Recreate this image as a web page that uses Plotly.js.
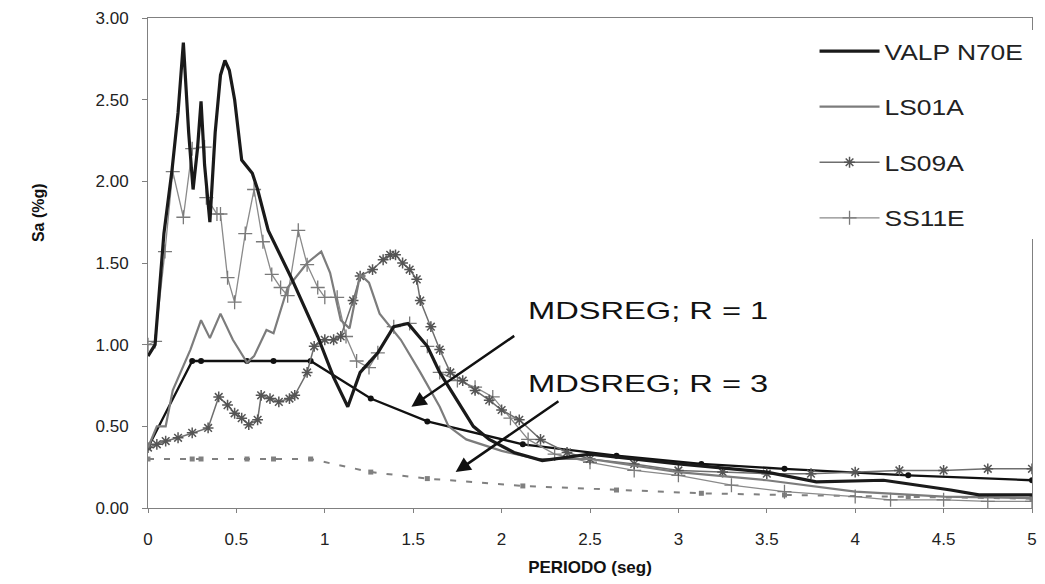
<!DOCTYPE html>
<html>
<head>
<meta charset="utf-8">
<script src="https://cdn.plot.ly/plotly-3.0.1.min.js"></script>
<style>html,body{margin:0;padding:0;background:#fff;}#chart{width:1045px;height:584px;}</style>
</head>
<body>
<div id="chart"></div>
<script>
// ---- Data ----
var valpX = [0, 0.04, 0.09, 0.136, 0.17, 0.2, 0.23, 0.255, 0.28, 0.3, 0.32, 0.35, 0.38, 0.41, 0.435, 0.46, 0.49, 0.53, 0.59, 0.62, 0.68, 0.81, 0.96, 1.05, 1.13, 1.2, 1.3, 1.39, 1.47, 1.58, 1.65, 1.75, 1.84, 1.93, 2.07, 2.23, 2.5, 3.0, 3.5, 3.78, 4.16, 4.54, 4.7, 5];
var valpY = [0.93, 1.0, 1.68, 2.07, 2.42, 2.85, 2.3, 1.95, 2.2, 2.49, 2.1, 1.75, 2.3, 2.65, 2.74, 2.68, 2.5, 2.13, 2.05, 1.95, 1.7, 1.41, 1.05, 0.8, 0.62, 0.83, 0.95, 1.11, 1.13, 0.99, 0.83, 0.66, 0.5, 0.42, 0.34, 0.29, 0.33, 0.27, 0.22, 0.16, 0.17, 0.11, 0.08, 0.08];

var ls01X = [0, 0.05, 0.1, 0.14, 0.24, 0.30, 0.35, 0.41, 0.48, 0.56, 0.6, 0.67, 0.71, 0.79, 0.9, 0.98, 1.03, 1.09, 1.14, 1.2, 1.25, 1.31, 1.43, 1.54, 1.65, 1.7, 1.8, 2.0, 2.2, 2.5, 3.0, 3.5, 4.0, 4.5, 5];
var ls01Y = [0.37, 0.5, 0.5, 0.72, 0.97, 1.15, 1.04, 1.19, 1.03, 0.89, 0.93, 1.09, 1.07, 1.35, 1.50, 1.57, 1.44, 1.15, 1.1, 1.43, 1.38, 1.19, 1.03, 0.83, 0.62, 0.5, 0.42, 0.35, 0.3, 0.3, 0.22, 0.17, 0.1, 0.07, 0.06];

var ls09X = [0, 0.05, 0.1, 0.17, 0.25, 0.34, 0.40, 0.45, 0.49, 0.53, 0.57, 0.62, 0.64, 0.69, 0.74, 0.8, 0.83, 0.9, 0.94, 1.0, 1.05, 1.09, 1.16, 1.2, 1.27, 1.33, 1.37, 1.40, 1.44, 1.48, 1.52, 1.54, 1.60, 1.65, 1.71, 1.78, 1.85, 1.93, 2.0, 2.1, 2.22, 2.37, 2.5, 2.75, 3.0, 3.25, 3.5, 3.75, 4.0, 4.25, 4.5, 4.75, 5];
var ls09Y = [0.37, 0.39, 0.41, 0.43, 0.46, 0.49, 0.68, 0.63, 0.58, 0.55, 0.51, 0.54, 0.69, 0.67, 0.65, 0.67, 0.69, 0.83, 0.99, 1.03, 1.03, 1.05, 1.27, 1.42, 1.46, 1.52, 1.55, 1.55, 1.5, 1.46, 1.4, 1.27, 1.11, 0.97, 0.83, 0.78, 0.72, 0.66, 0.6, 0.54, 0.42, 0.34, 0.3, 0.27, 0.23, 0.22, 0.21, 0.21, 0.22, 0.23, 0.23, 0.24, 0.24];

var ss11X = [0, 0.04, 0.096, 0.14, 0.2, 0.25, 0.32, 0.33, 0.39, 0.41, 0.45, 0.49, 0.55, 0.6, 0.65, 0.70, 0.75, 0.79, 0.85, 0.9, 0.96, 1.0, 1.07, 1.12, 1.18, 1.25, 1.3, 1.39, 1.48, 1.58, 1.65, 1.75, 1.85, 1.95, 2.05, 2.15, 2.3, 2.5, 2.75, 3.0, 3.3, 3.6, 4.0, 4.2, 4.5, 4.75, 5];
var ss11Y = [1.0, 1.02, 1.57, 2.06, 1.78, 2.2, 2.21, 1.9, 1.80, 1.80, 1.41, 1.26, 1.68, 1.95, 1.63, 1.43, 1.35, 1.30, 1.70, 1.49, 1.35, 1.29, 1.29, 1.05, 0.9, 0.86, 0.95, 1.11, 1.13, 0.99, 0.83, 0.78, 0.74, 0.68, 0.55, 0.42, 0.33, 0.28, 0.23, 0.2, 0.14, 0.1, 0.07, 0.05, 0.05, 0.04, 0.04];

var mdsX = [0, 0.25, 0.3, 0.56, 0.71, 0.92, 1.26, 1.58, 2.12, 2.65, 3.13, 3.6, 4.3, 5];
var mdsR1Y = [0.37, 0.9, 0.9, 0.9, 0.9, 0.9, 0.67, 0.53, 0.39, 0.32, 0.27, 0.24, 0.2, 0.17];
var mdsR3Y = [0.3, 0.3, 0.3, 0.3, 0.3, 0.3, 0.22, 0.18, 0.135, 0.11, 0.09, 0.08, 0.07, 0.057];

var xTicks = [0, 0.5, 1, 1.5, 2, 2.5, 3, 3.5, 4, 4.5, 5];
var xTickText = ['0', '0.5', '1', '1.5', '2', '2.5', '3', '3.5', '4', '4.5', '5'];
var yTicks = [0, 0.5, 1, 1.5, 2, 2.5, 3];
var yTickText = ['0.00', '0.50', '1.00', '1.50', '2.00', '2.50', '3.00'];

var seriesNames = ['VALP N70E', 'LS01A', 'LS09A', 'SS11E'];
var annoTexts = ['MDSREG; R = 1', 'MDSREG; R = 3'];
var xTitle = '<b>PERIODO (seg)</b>';
var yTitle = '<b>Sa (%g)</b>';

var traces = [
  {x: mdsX, y: mdsR3Y, mode: 'lines+markers', showlegend: false,
   line: {color: '#808080', width: 2, dash: '6px,10px'},
   marker: {symbol: 'square', size: 5, color: '#808080'}},
  {x: mdsX, y: mdsR1Y, mode: 'lines+markers', showlegend: false,
   line: {color: '#111', width: 2.3},
   marker: {symbol: 'circle', size: 6, color: '#111'}},
  {x: ss11X, y: ss11Y, name: seriesNames[3], legendgroup: 'd', legendrank: 4, mode: 'lines+markers',
   line: {color: '#8a8a8a', width: 1.3},
   marker: {symbol: 'cross-thin-open', size: 10, color: '#7a7a7a', line: {color: '#7a7a7a', width: 1.3}}},
  {x: ls09X, y: ls09Y, name: seriesNames[2], legendgroup: 'c', legendrank: 3, mode: 'lines+markers',
   line: {color: '#6e6e6e', width: 1.5},
   marker: {symbol: 'asterisk-open', size: 9, color: '#555', line: {color: '#555', width: 1.5}}},
  {x: ls01X, y: ls01Y, name: seriesNames[1], legendgroup: 'b', legendrank: 2, mode: 'lines',
   line: {color: '#7c7c7c', width: 2.2}},
  {x: valpX, y: valpY, name: seriesNames[0], legendgroup: 'a', legendrank: 1, mode: 'lines',
   line: {color: '#1a1a1a', width: 3.2}}
];

var layout = {
  width: 1045, height: 584,
  margin: {l: 148, r: 13, t: 18, b: 76},
  paper_bgcolor: '#fff', plot_bgcolor: '#fff',
  font: {family: 'Liberation Sans, Arial, sans-serif', color: '#222'},
  showlegend: true,
  legend: {x: 0.754, y: 0.975, xanchor: 'left', yanchor: 'top',
           bgcolor: '#fff', borderwidth: 0, traceorder: 'grouped',
           itemwidth: 60, tracegroupgap: 24, font: {size: 22, color: '#222'}},
  xaxis: {range: [0, 5], tickvals: xTicks, ticktext: xTickText,
          showgrid: false, zeroline: false, showline: true, linecolor: '#808080', linewidth: 1,
          mirror: true, ticks: 'outside', ticklen: 4, tickcolor: '#808080',
          ticklabelstandoff: 12,
          tickfont: {family: 'Liberation Sans Narrow, Liberation Sans, Arial', size: 17, color: '#222'},
          title: {text: xTitle, standoff: 12,
                  font: {family: 'Liberation Sans Narrow, Liberation Sans, Arial', size: 17, color: '#111'}}},
  yaxis: {range: [0, 3], tickvals: yTicks, ticktext: yTickText,
          showgrid: false, zeroline: false, showline: true, linecolor: '#808080', linewidth: 1,
          mirror: true, ticks: 'outside', ticklen: 5, tickcolor: '#808080',
          ticklabelstandoff: 10,
          tickfont: {family: 'Liberation Sans, Arial', size: 17, color: '#222'}},
  annotations: [
    {x: 1.49, y: 0.62, ax: 2.08, ay: 1.06, axref: 'x', ayref: 'y', xref: 'x', yref: 'y',
     text: '', showarrow: true, arrowhead: 2, arrowsize: 1.2, arrowwidth: 2.5, arrowcolor: '#111'},
    {x: 1.74, y: 0.22, ax: 2.33, ay: 0.66, axref: 'x', ayref: 'y', xref: 'x', yref: 'y',
     text: '', showarrow: true, arrowhead: 2, arrowsize: 1.2, arrowwidth: 2.5, arrowcolor: '#111'},
    {x: 2.14, y: 1.21, xref: 'x', yref: 'y', xanchor: 'left', yanchor: 'middle', showarrow: false,
     text: annoTexts[0], font: {size: 24, color: '#111'}},
    {x: 2.14, y: 0.76, xref: 'x', yref: 'y', xanchor: 'left', yanchor: 'middle', showarrow: false,
     text: annoTexts[1], font: {size: 24, color: '#111'}},
    {x: -0.1244, y: 0.602, xref: 'paper', yref: 'paper', xanchor: 'center', yanchor: 'middle',
     showarrow: false, textangle: -90, text: yTitle,
     font: {family: 'Liberation Sans Narrow, Liberation Sans, Arial', size: 16, color: '#111'}}
  ]
};

Plotly.newPlot('chart', traces, layout, {displayModeBar: false, staticPlot: true}).then(function (gd) {
  // the reference lettering of the legend and the callouts is horizontally wide
  function stretch(nodes, s) {
    nodes.forEach(function (t) {
      var b = t.getBBox();
      t.setAttribute('transform', 'matrix(' + s + ',0,0,1,' + (b.x * (1 - s)) + ',0)');
    });
  }
  var annos = Array.prototype.slice.call(gd.querySelectorAll('.annotation-text')).filter(function (t) {
    return t.textContent.indexOf('MDSREG') === 0;
  });
  stretch(annos, 1.36);
  stretch(Array.prototype.slice.call(gd.querySelectorAll('.legendtext')), 1.2);
  // let the widened legend text show past the legend's own clip box
  gd.querySelectorAll('.legend, .legend *').forEach(function (el) {
    if (el.hasAttribute('clip-path')) { el.removeAttribute('clip-path'); }
  });
  var bg = gd.querySelector('.legend .bg');
  if (bg) { bg.setAttribute('width', parseFloat(bg.getAttribute('width')) + 40); }
});
</script>
</body>
</html>
